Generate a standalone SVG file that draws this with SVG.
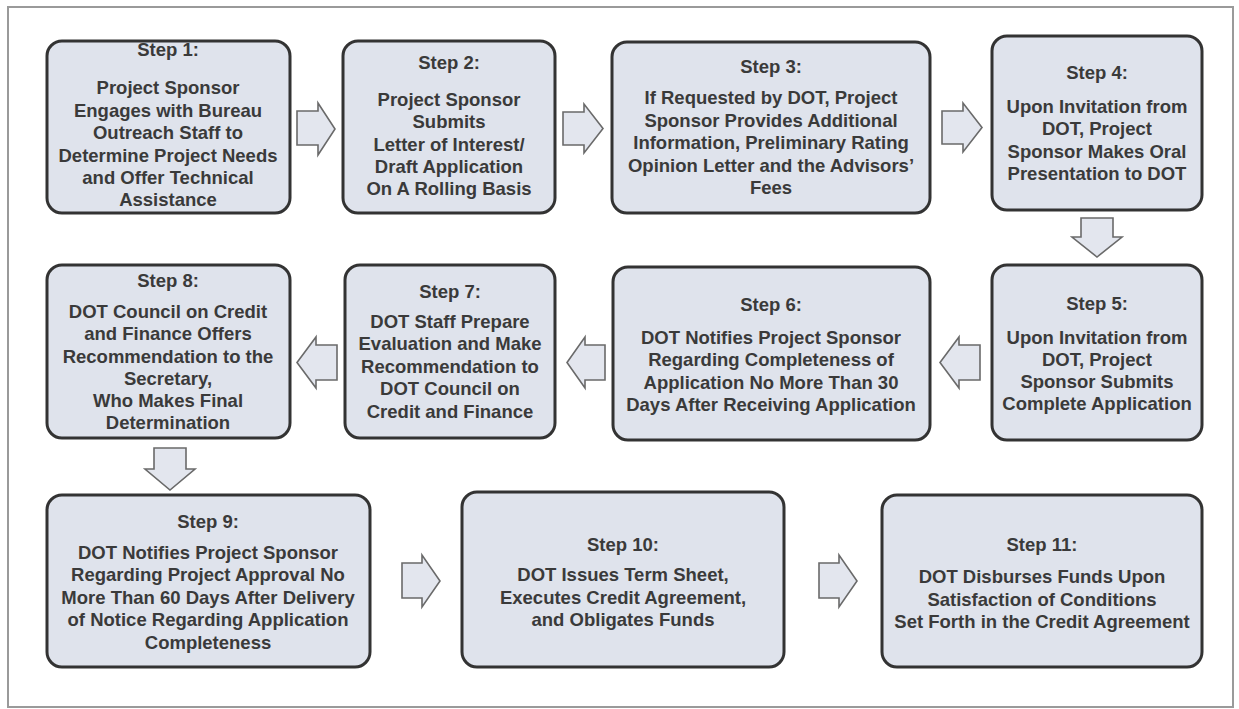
<svg xmlns="http://www.w3.org/2000/svg" width="1239" height="709" viewBox="0 0 1239 709">
<style>
.box{fill:#dfe3ec;stroke:#333;stroke-width:3}
.arr{fill:#e3e6ee;stroke:#6a6a6a;stroke-width:1.6;stroke-linejoin:miter}
text{font-family:"Liberation Sans",Arial,sans-serif;font-weight:bold;font-size:18.5px;fill:#3a3a3a;text-anchor:middle}
</style>
<rect x="0" y="0" width="1239" height="709" fill="#fff"/>
<rect x="8" y="7" width="1225" height="700" fill="#fff" stroke="#9a9a9a" stroke-width="2"/>
<g id="connectors">
<polygon class="arr" points="297,111 318,111 318,103 335,129 318,155 318,145 297,145"/>
<polygon class="arr" points="563,112 584,112 584,104 603,128.5 584,153 584,145 563,145"/>
<polygon class="arr" points="942,111 963,111 963,103 982,127.5 963,152 963,144 942,144"/>
<polygon class="arr" points="1081,218 1113,218 1113,237 1122,237 1097,257 1072,237 1081,237"/>
<polygon class="arr" points="980,345 959,345 959,337 940,362.5 959,388 959,380 980,380"/>
<polygon class="arr" points="605,345 585,345 585,337 567,362.5 585,388 585,380 605,380"/>
<polygon class="arr" points="337,345 316,345 316,337 297,362.5 316,388 316,380 337,380"/>
<polygon class="arr" points="154,448 186,448 186,469 195,469 170,490 145,469 154,469"/>
<polygon class="arr" points="402,563 422,563 422,555 440,581 422,607 422,598 402,598"/>
<polygon class="arr" points="819,563 839,563 839,555 857,581 839,607 839,598 819,598"/>
</g>
<g id="step1">
<rect class="box" x="47" y="41" width="243" height="172" rx="15"/>
<text x="168" y="56">Step 1:</text>
<text x="168" y="94">Project Sponsor</text>
<text x="168" y="117">Engages with Bureau</text>
<text x="168" y="139">Outreach Staff to</text>
<text x="168" y="162">Determine Project Needs</text>
<text x="168" y="184">and Offer Technical</text>
<text x="168" y="206">Assistance</text>
</g>
<g id="step2">
<rect class="box" x="343" y="41" width="212" height="172" rx="15"/>
<text x="449" y="69">Step 2:</text>
<text x="449" y="106">Project Sponsor</text>
<text x="449" y="128">Submits</text>
<text x="449" y="151">Letter of Interest/</text>
<text x="449" y="173">Draft Application</text>
<text x="449" y="195">On A Rolling Basis</text>
</g>
<g id="step3">
<rect class="box" x="612" y="42" width="318" height="171" rx="15"/>
<text x="771" y="73">Step 3:</text>
<text x="771" y="104">If Requested by DOT, Project</text>
<text x="771" y="127">Sponsor Provides Additional</text>
<text x="771" y="149">Information, Preliminary Rating</text>
<text x="771" y="172">Opinion Letter and the Advisors’</text>
<text x="771" y="194">Fees</text>
</g>
<g id="step4">
<rect class="box" x="992" y="36" width="210" height="174" rx="15"/>
<text x="1097" y="79">Step 4:</text>
<text x="1097" y="113">Upon Invitation from</text>
<text x="1097" y="135">DOT, Project</text>
<text x="1097" y="158">Sponsor Makes Oral</text>
<text x="1097" y="180">Presentation to DOT</text>
</g>
<g id="step5">
<rect class="box" x="992" y="265" width="210" height="175" rx="15"/>
<text x="1097" y="310">Step 5:</text>
<text x="1097" y="344">Upon Invitation from</text>
<text x="1097" y="366">DOT, Project</text>
<text x="1097" y="388">Sponsor Submits</text>
<text x="1097" y="410">Complete Application</text>
</g>
<g id="step6">
<rect class="box" x="613" y="267" width="317" height="173" rx="15"/>
<text x="771" y="311">Step 6:</text>
<text x="771" y="344">DOT Notifies Project Sponsor</text>
<text x="771" y="366">Regarding Completeness of</text>
<text x="771" y="389">Application No More Than 30</text>
<text x="771" y="411">Days After Receiving Application</text>
</g>
<g id="step7">
<rect class="box" x="345" y="265" width="210" height="173" rx="15"/>
<text x="450" y="298">Step 7:</text>
<text x="450" y="328">DOT Staff Prepare</text>
<text x="450" y="350">Evaluation and Make</text>
<text x="450" y="373">Recommendation to</text>
<text x="450" y="395">DOT Council on</text>
<text x="450" y="418">Credit and Finance</text>
</g>
<g id="step8">
<rect class="box" x="47" y="265" width="243" height="173" rx="15"/>
<text x="168" y="287">Step 8:</text>
<text x="168" y="318">DOT Council on Credit</text>
<text x="168" y="340">and Finance Offers</text>
<text x="168" y="363">Recommendation to the</text>
<text x="168" y="385">Secretary,</text>
<text x="168" y="407">Who Makes Final</text>
<text x="168" y="429">Determination</text>
</g>
<g id="step9">
<rect class="box" x="47" y="495" width="323" height="172" rx="15"/>
<text x="208" y="528">Step 9:</text>
<text x="208" y="559">DOT Notifies Project Sponsor</text>
<text x="208" y="581">Regarding Project Approval No</text>
<text x="208" y="604">More Than 60 Days After Delivery</text>
<text x="208" y="626">of Notice Regarding Application</text>
<text x="208" y="649">Completeness</text>
</g>
<g id="step10">
<rect class="box" x="462" y="492" width="322" height="175" rx="15"/>
<text x="623" y="551">Step 10:</text>
<text x="623" y="581">DOT Issues Term Sheet,</text>
<text x="623" y="604">Executes Credit Agreement,</text>
<text x="623" y="626">and Obligates Funds</text>
</g>
<g id="step11">
<rect class="box" x="882" y="495" width="320" height="172" rx="15"/>
<text x="1042" y="551">Step 11:</text>
<text x="1042" y="583">DOT Disburses Funds Upon</text>
<text x="1042" y="606">Satisfaction of Conditions</text>
<text x="1042" y="628">Set Forth in the Credit Agreement</text>
</g>
</svg>
